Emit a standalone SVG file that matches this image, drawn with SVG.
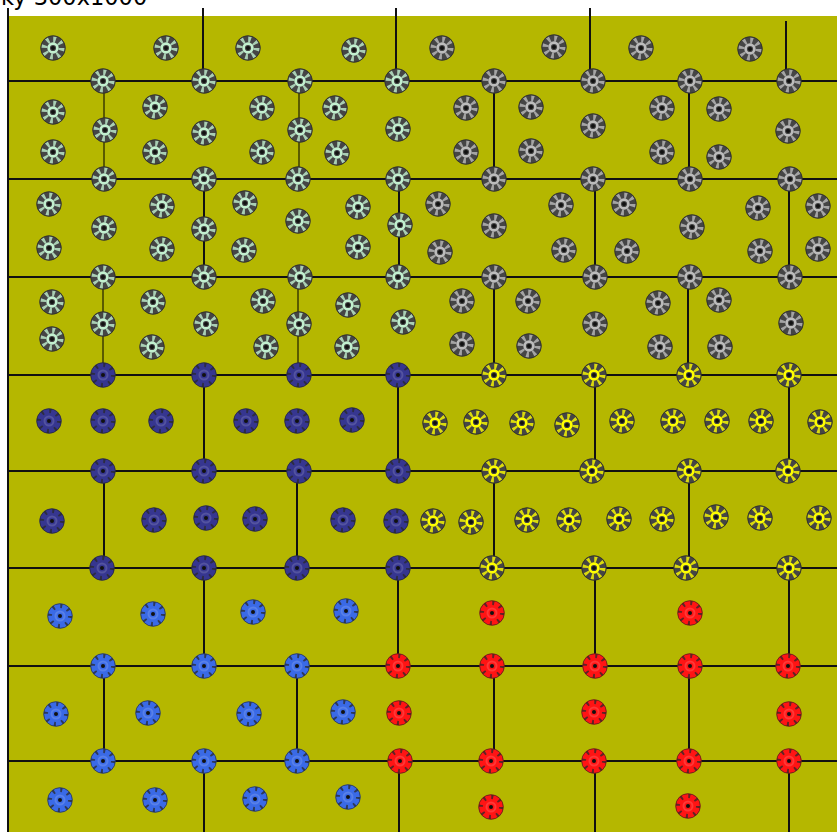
<svg xmlns="http://www.w3.org/2000/svg" width="837" height="832" viewBox="0 0 837 832">
<style>
.ln{stroke:#111;stroke-width:2;fill:none}
.lo{stroke:#5a5a00;stroke-width:2;fill:none}
.m{color:#c2f0cf}
.g{color:#bcbcbc}
.y{color:#ffff00}
.n{color:#363690}
.b{color:#3a6ae6}
.r{color:#ff1414}
.t{font-family:"DejaVu Sans","Liberation Sans",sans-serif;font-size:22.5px;fill:#000}
</style>
<defs>
<g id="L">
<circle r="12.5" fill="#454545"/>
<circle r="8.6" fill="none" stroke="currentColor" stroke-width="6" stroke-dasharray="2.6 4.15" stroke-opacity="0.8"/>
<circle r="4.4" fill="none" stroke="currentColor" stroke-width="2.6"/>
<circle r="2" fill="#111"/>
<circle r="12.3" fill="none" stroke="#222" stroke-width="1" stroke-opacity="0.6"/>
</g>
<g id="D">
<circle r="12.5" fill="currentColor"/>
<circle r="10" fill="none" stroke="#2a2a2a" stroke-width="4" stroke-dasharray="2 5.85" stroke-opacity="0.75"/>
<circle r="4.5" fill="none" stroke="#fff" stroke-opacity="0.15" stroke-width="2"/>
<circle r="2" fill="#111"/>
<circle r="12.3" fill="none" stroke="#222" stroke-width="1" stroke-opacity="0.6"/>
</g>
</defs>
<rect width="837" height="832" fill="#fff"/>
<text class="t" x="1" y="5">ky 300x1000</text>
<rect x="8" y="16" width="829" height="816" fill="#b5b700"/>
<g id="connectors">
<line class="ln" x1="8" y1="8" x2="8" y2="832"/>
<line class="ln" x1="8" y1="81" x2="837" y2="81"/>
<line class="ln" x1="8" y1="179" x2="837" y2="179"/>
<line class="ln" x1="8" y1="277" x2="837" y2="277"/>
<line class="ln" x1="8" y1="375" x2="837" y2="375"/>
<line class="ln" x1="8" y1="471" x2="837" y2="471"/>
<line class="ln" x1="8" y1="568" x2="837" y2="568"/>
<line class="ln" x1="8" y1="666" x2="837" y2="666"/>
<line class="ln" x1="8" y1="761" x2="837" y2="761"/>
<line class="ln" x1="203" y1="8" x2="203" y2="81"/>
<line class="ln" x1="396" y1="8" x2="396" y2="81"/>
<line class="ln" x1="590" y1="8" x2="590" y2="81"/>
<line class="ln" x1="786" y1="21" x2="786" y2="81"/>
<line class="lo" x1="104" y1="81" x2="104" y2="179"/>
<line class="lo" x1="299" y1="81" x2="299" y2="179"/>
<line class="ln" x1="494" y1="81" x2="494" y2="179"/>
<line class="ln" x1="689" y1="81" x2="689" y2="179"/>
<line class="ln" x1="204" y1="179" x2="204" y2="277"/>
<line class="ln" x1="399" y1="179" x2="399" y2="277"/>
<line class="ln" x1="595" y1="179" x2="595" y2="277"/>
<line class="ln" x1="789" y1="179" x2="789" y2="277"/>
<line class="lo" x1="103" y1="277" x2="103" y2="375"/>
<line class="lo" x1="298" y1="277" x2="298" y2="375"/>
<line class="ln" x1="494" y1="277" x2="494" y2="375"/>
<line class="ln" x1="688" y1="277" x2="688" y2="375"/>
<line class="ln" x1="204" y1="375" x2="204" y2="471"/>
<line class="ln" x1="398" y1="375" x2="398" y2="471"/>
<line class="ln" x1="595" y1="375" x2="595" y2="471"/>
<line class="ln" x1="789" y1="375" x2="789" y2="471"/>
<line class="ln" x1="104" y1="471" x2="104" y2="568"/>
<line class="ln" x1="297" y1="471" x2="297" y2="568"/>
<line class="ln" x1="494" y1="471" x2="494" y2="568"/>
<line class="ln" x1="689" y1="471" x2="689" y2="568"/>
<line class="ln" x1="204" y1="568" x2="204" y2="666"/>
<line class="ln" x1="398" y1="568" x2="398" y2="666"/>
<line class="ln" x1="595" y1="568" x2="595" y2="666"/>
<line class="ln" x1="789" y1="568" x2="789" y2="666"/>
<line class="ln" x1="104" y1="666" x2="104" y2="761"/>
<line class="ln" x1="297" y1="666" x2="297" y2="761"/>
<line class="ln" x1="494" y1="666" x2="494" y2="761"/>
<line class="ln" x1="689" y1="666" x2="689" y2="761"/>
<line class="ln" x1="204" y1="761" x2="204" y2="832"/>
<line class="ln" x1="399" y1="761" x2="399" y2="832"/>
<line class="ln" x1="595" y1="761" x2="595" y2="832"/>
<line class="ln" x1="789" y1="761" x2="789" y2="832"/>
</g>
<g id="mint" class="m">
<use id="m1" href="#L" x="53" y="48"/><use id="m2" href="#L" x="166" y="48"/><use id="m3" href="#L" x="248" y="48"/><use id="m4" href="#L" x="354" y="50"/>
<use id="m5" href="#L" x="103" y="81"/><use id="m6" href="#L" x="204" y="81"/><use id="m7" href="#L" x="300" y="81"/><use id="m8" href="#L" x="397" y="81"/>
<use id="m9" href="#L" x="53" y="112"/><use id="m10" href="#L" x="53" y="152"/><use id="m11" href="#L" x="105" y="130"/><use id="m12" href="#L" x="155" y="107"/><use id="m13" href="#L" x="155" y="152"/><use id="m14" href="#L" x="204" y="133"/><use id="m15" href="#L" x="262" y="108"/><use id="m16" href="#L" x="262" y="152"/><use id="m17" href="#L" x="300" y="130"/><use id="m18" href="#L" x="335" y="108"/><use id="m19" href="#L" x="337" y="153"/><use id="m20" href="#L" x="398" y="129"/>
<use id="m21" href="#L" x="104" y="179"/><use id="m22" href="#L" x="204" y="179"/><use id="m23" href="#L" x="298" y="179"/><use id="m24" href="#L" x="398" y="179"/>
<use id="m25" href="#L" x="49" y="204"/><use id="m26" href="#L" x="49" y="248"/><use id="m27" href="#L" x="104" y="228"/><use id="m28" href="#L" x="162" y="206"/><use id="m29" href="#L" x="162" y="249"/><use id="m30" href="#L" x="204" y="229"/><use id="m31" href="#L" x="245" y="203"/><use id="m32" href="#L" x="244" y="250"/><use id="m33" href="#L" x="298" y="221"/><use id="m34" href="#L" x="358" y="207"/><use id="m35" href="#L" x="358" y="247"/><use id="m36" href="#L" x="400" y="225"/>
<use id="m37" href="#L" x="103" y="277"/><use id="m38" href="#L" x="204" y="277"/><use id="m39" href="#L" x="300" y="277"/><use id="m40" href="#L" x="398" y="277"/>
<use id="m41" href="#L" x="52" y="302"/><use id="m42" href="#L" x="52" y="339"/><use id="m43" href="#L" x="103" y="324"/><use id="m44" href="#L" x="153" y="302"/><use id="m45" href="#L" x="152" y="347"/><use id="m46" href="#L" x="206" y="324"/><use id="m47" href="#L" x="263" y="301"/><use id="m48" href="#L" x="266" y="347"/><use id="m49" href="#L" x="299" y="324"/><use id="m50" href="#L" x="348" y="305"/><use id="m51" href="#L" x="347" y="347"/><use id="m52" href="#L" x="403" y="322"/>
</g>
<g id="gray" class="g">
<use id="g1" href="#L" x="442" y="48"/><use id="g2" href="#L" x="554" y="47"/><use id="g3" href="#L" x="641" y="48"/><use id="g4" href="#L" x="750" y="49"/>
<use id="g5" href="#L" x="494" y="81"/><use id="g6" href="#L" x="593" y="81"/><use id="g7" href="#L" x="690" y="81"/><use id="g8" href="#L" x="789" y="81"/>
<use id="g9" href="#L" x="466" y="108"/><use id="g10" href="#L" x="466" y="152"/><use id="g11" href="#L" x="531" y="107"/><use id="g12" href="#L" x="531" y="151"/><use id="g13" href="#L" x="593" y="126"/><use id="g14" href="#L" x="662" y="108"/><use id="g15" href="#L" x="662" y="152"/><use id="g16" href="#L" x="719" y="109"/><use id="g17" href="#L" x="719" y="157"/><use id="g18" href="#L" x="788" y="131"/>
<use id="g19" href="#L" x="494" y="179"/><use id="g20" href="#L" x="593" y="179"/><use id="g21" href="#L" x="690" y="179"/><use id="g22" href="#L" x="790" y="179"/>
<use id="g23" href="#L" x="438" y="204"/><use id="g24" href="#L" x="440" y="252"/><use id="g25" href="#L" x="494" y="226"/><use id="g26" href="#L" x="561" y="205"/><use id="g27" href="#L" x="564" y="250"/><use id="g28" href="#L" x="624" y="204"/><use id="g29" href="#L" x="627" y="251"/><use id="g30" href="#L" x="692" y="227"/><use id="g31" href="#L" x="758" y="208"/><use id="g32" href="#L" x="760" y="251"/><use id="g33" href="#L" x="818" y="206"/><use id="g34" href="#L" x="818" y="249"/>
<use id="g35" href="#L" x="494" y="277"/><use id="g36" href="#L" x="595" y="277"/><use id="g37" href="#L" x="690" y="277"/><use id="g38" href="#L" x="790" y="277"/>
<use id="g39" href="#L" x="462" y="301"/><use id="g40" href="#L" x="462" y="344"/><use id="g41" href="#L" x="528" y="301"/><use id="g42" href="#L" x="529" y="346"/><use id="g43" href="#L" x="595" y="324"/><use id="g44" href="#L" x="658" y="303"/><use id="g45" href="#L" x="660" y="347"/><use id="g46" href="#L" x="719" y="300"/><use id="g47" href="#L" x="720" y="347"/><use id="g48" href="#L" x="791" y="323"/>
</g>
<g id="navy" class="n">
<use id="n1" href="#D" x="103" y="375"/><use id="n2" href="#D" x="204" y="375"/><use id="n3" href="#D" x="299" y="375"/><use id="n4" href="#D" x="398" y="375"/>
<use id="n5" href="#D" x="49" y="421"/><use id="n6" href="#D" x="103" y="421"/><use id="n7" href="#D" x="161" y="421"/><use id="n8" href="#D" x="246" y="421"/><use id="n9" href="#D" x="297" y="421"/><use id="n10" href="#D" x="352" y="420"/>
<use id="n11" href="#D" x="103" y="471"/><use id="n12" href="#D" x="204" y="471"/><use id="n13" href="#D" x="299" y="471"/><use id="n14" href="#D" x="398" y="471"/>
<use id="n15" href="#D" x="52" y="521"/><use id="n16" href="#D" x="154" y="520"/><use id="n17" href="#D" x="206" y="518"/><use id="n18" href="#D" x="255" y="519"/><use id="n19" href="#D" x="343" y="520"/><use id="n20" href="#D" x="396" y="521"/>
<use id="n21" href="#D" x="102" y="568"/><use id="n22" href="#D" x="204" y="568"/><use id="n23" href="#D" x="297" y="568"/><use id="n24" href="#D" x="398" y="568"/>
</g>
<g id="yellow" class="y">
<use id="y1" href="#L" x="494" y="375"/><use id="y2" href="#L" x="594" y="375"/><use id="y3" href="#L" x="689" y="375"/><use id="y4" href="#L" x="789" y="375"/>
<use id="y5" href="#L" x="435" y="423"/><use id="y6" href="#L" x="476" y="422"/><use id="y7" href="#L" x="522" y="423"/><use id="y8" href="#L" x="567" y="425"/><use id="y9" href="#L" x="622" y="421"/><use id="y10" href="#L" x="673" y="421"/><use id="y11" href="#L" x="717" y="421"/><use id="y12" href="#L" x="761" y="421"/><use id="y13" href="#L" x="820" y="422"/>
<use id="y14" href="#L" x="494" y="471"/><use id="y15" href="#L" x="592" y="471"/><use id="y16" href="#L" x="689" y="471"/><use id="y17" href="#L" x="788" y="471"/>
<use id="y18" href="#L" x="433" y="521"/><use id="y19" href="#L" x="471" y="522"/><use id="y20" href="#L" x="527" y="520"/><use id="y21" href="#L" x="569" y="520"/><use id="y22" href="#L" x="619" y="519"/><use id="y23" href="#L" x="662" y="519"/><use id="y24" href="#L" x="716" y="517"/><use id="y25" href="#L" x="760" y="518"/><use id="y26" href="#L" x="819" y="518"/>
<use id="y27" href="#L" x="492" y="568"/><use id="y28" href="#L" x="594" y="568"/><use id="y29" href="#L" x="686" y="568"/><use id="y30" href="#L" x="789" y="568"/>
</g>
<g id="blue" class="b">
<use id="b1" href="#D" x="60" y="616"/><use id="b2" href="#D" x="153" y="614"/><use id="b3" href="#D" x="253" y="612"/><use id="b4" href="#D" x="346" y="611"/>
<use id="b5" href="#D" x="103" y="666"/><use id="b6" href="#D" x="204" y="666"/><use id="b7" href="#D" x="297" y="666"/>
<use id="b8" href="#D" x="56" y="714"/><use id="b9" href="#D" x="148" y="713"/><use id="b10" href="#D" x="249" y="714"/><use id="b11" href="#D" x="343" y="712"/>
<use id="b12" href="#D" x="103" y="761"/><use id="b13" href="#D" x="204" y="761"/><use id="b14" href="#D" x="297" y="761"/>
<use id="b15" href="#D" x="60" y="800"/><use id="b16" href="#D" x="155" y="800"/><use id="b17" href="#D" x="255" y="799"/><use id="b18" href="#D" x="348" y="797"/>
</g>
<g id="red" class="r">
<use id="r1" href="#D" x="492" y="613"/><use id="r2" href="#D" x="690" y="613"/>
<use id="r3" href="#D" x="398" y="666"/><use id="r4" href="#D" x="492" y="666"/><use id="r5" href="#D" x="595" y="666"/><use id="r6" href="#D" x="690" y="666"/><use id="r7" href="#D" x="788" y="666"/>
<use id="r8" href="#D" x="399" y="713"/><use id="r9" href="#D" x="594" y="712"/><use id="r10" href="#D" x="789" y="714"/>
<use id="r11" href="#D" x="400" y="761"/><use id="r12" href="#D" x="491" y="761"/><use id="r13" href="#D" x="594" y="761"/><use id="r14" href="#D" x="689" y="761"/><use id="r15" href="#D" x="789" y="761"/>
<use id="r16" href="#D" x="491" y="807"/><use id="r17" href="#D" x="688" y="806"/>
</g>
</svg>
